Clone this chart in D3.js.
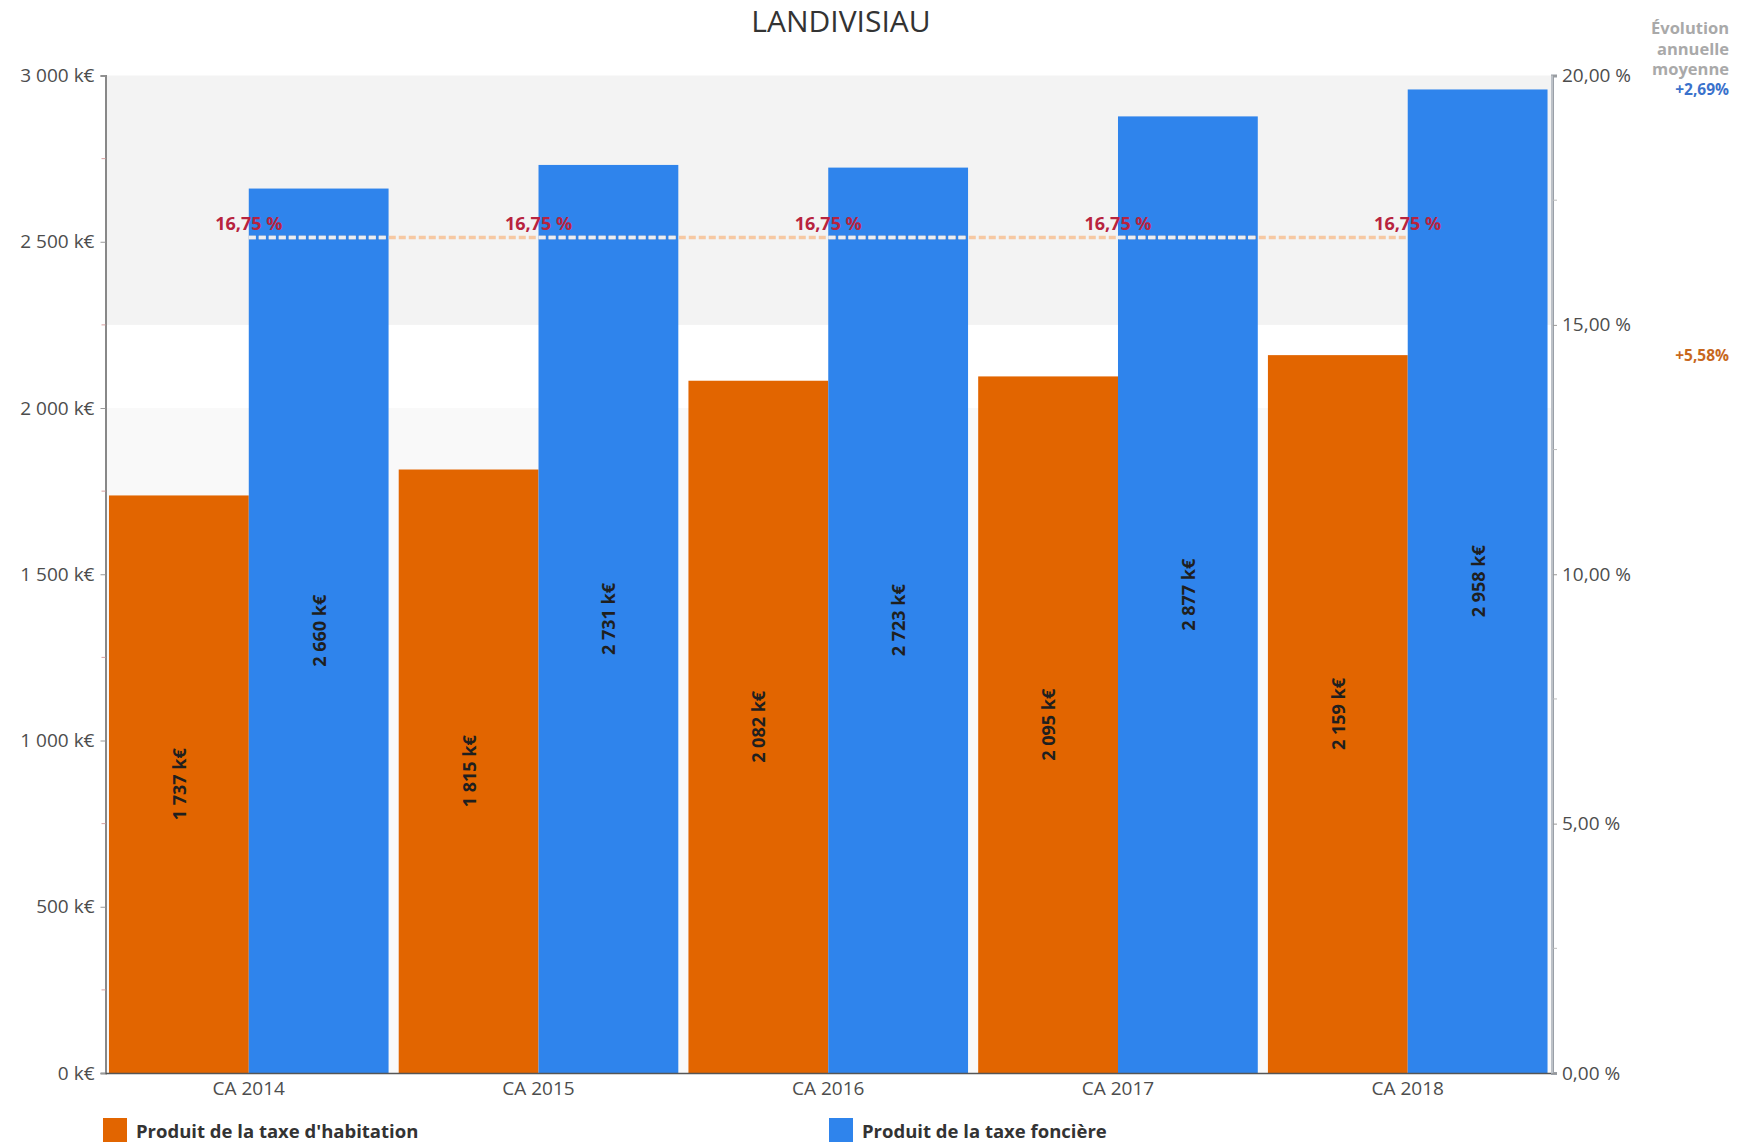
<!DOCTYPE html>
<html><head><meta charset="utf-8">
<script src="https://cdn.jsdelivr.net/npm/d3@7"></script>
<style>
html,body{margin:0;padding:0;background:#fff;}
text{font-family:"Open Sans",sans-serif;}
</style></head>
<body>
<svg id="chart" width="1740" height="1144"></svg>
<script>
const title = "LANDIVISIAU";
const categories = ["CA 2014","CA 2015","CA 2016","CA 2017","CA 2018"];
const seriesNames = ["Produit de la taxe d'habitation","Produit de la taxe foncière"];
const habitation = [1737,1815,2082,2095,2159];
const fonciere = [2660,2731,2723,2877,2958];
const taux = [16.75,16.75,16.75,16.75,16.75];
const leftTicks = [0,500,1000,1500,2000,2500,3000];
const rightTicks = [0,5,10,15,20];
const evolutionTitle = ["Évolution","annuelle","moyenne"];
const evolutionValues = ["+2,69%","+5,58%"];
const colors = ["#e26500","#2f84ec"];

const svg = d3.select("#chart");
const X0 = 105.5, X1 = 1551, Y0 = 1073, Y1 = 75.5;
const fmtK = v => d3.format(",")(v).replace(/,/g," ") + " k€";
const fmtPct = v => d3.format(".2f")(v).replace(".", ",") + " %";

const x = d3.scaleBand().domain(categories).range([X0, X1]).paddingInner(0.035).paddingOuter(0.012);
const xs = d3.scaleBand().domain([0,1]).range([0, x.bandwidth()]);
const y = d3.scaleLinear().domain([0,3000]).range([Y0, Y1]);
const yr = d3.scaleLinear().domain([0,20]).range([Y0, Y1]);

// background bands
svg.append("rect").attr("x", X0).attr("width", X1 - X0)
  .attr("y", yr(20)).attr("height", yr(15) - yr(20)).attr("fill", "#f3f3f3");
svg.append("rect").attr("x", X0).attr("width", X1 - X0)
  .attr("y", y(2000)).attr("height", y(0) - y(2000)).attr("fill", "#f9f9f9");

// title
svg.append("text").attr("x", 841).attr("y", 32).attr("text-anchor", "middle")
  .attr("font-size", 30).attr("fill", "#333").text(title);

// bars
const data = categories.map((c, i) => ({c, vals: [habitation[i], fonciere[i]]}));
const g = svg.append("g");
data.forEach(d => {
  d.vals.forEach((v, s) => {
    const bx = x(d.c) + xs(s);
    g.append("rect").attr("x", bx).attr("width", xs.bandwidth())
      .attr("y", y(v)).attr("height", y(0) - y(v)).attr("fill", colors[s]);
    const cx = bx + xs.bandwidth() / 2, cy = (y(v) + y(0)) / 2;
    g.append("text").attr("transform", `translate(${cx + 7},${cy}) rotate(-90)`)
      .attr("text-anchor", "middle").attr("font-size", 18).attr("font-weight", "bold")
      .attr("fill", "#1f1f1f").text(fmtK(v));
  });
});

// axes
const leftAxis = d3.axisLeft(y).tickValues(leftTicks).tickFormat(fmtK).tickSize(5).tickPadding(6);
const la = svg.append("g").attr("transform", `translate(${X0},0)`).call(leftAxis);
la.select(".domain").attr("stroke", "#888").attr("stroke-width", 2);
la.selectAll(".tick line").attr("stroke", "#999");
la.selectAll(".tick text").attr("font-size", 19).attr("fill", "#4d4d4d");
// minor ticks left
svg.append("g").selectAll("line").data(d3.range(250, 3000, 500)).join("line")
  .attr("x1", X0 - 4).attr("x2", X0).attr("y1", d => y(d)).attr("y2", d => y(d))
  .attr("stroke", "#d9a0a0").attr("stroke-width", 1);

const rightAxis = d3.axisRight(yr).tickValues(rightTicks).tickFormat(fmtPct).tickSize(5).tickPadding(5);
const ra = svg.append("g").attr("transform", `translate(${X1 + 1},0)`).call(rightAxis);
ra.select(".domain").attr("stroke", "#9aa0a8").attr("stroke-width", 3);
ra.selectAll(".tick line").attr("stroke", "#999");
ra.selectAll(".tick text").attr("font-size", 19).attr("fill", "#4d4d4d");
svg.append("line").attr("x1", X1 + 1).attr("x2", X1 + 1).attr("y1", Y1).attr("y2", Y0)
  .attr("stroke", "#dfe3e8").attr("stroke-width", 1);
svg.append("g").selectAll("line").data(d3.range(2.5, 20, 5)).join("line")
  .attr("x1", X1 + 2).attr("x2", X1 + 6).attr("y1", d => yr(d)).attr("y2", d => yr(d))
  .attr("stroke", "#bbb");

// x axis baseline + labels
svg.append("line").attr("x1", X0).attr("x2", X1).attr("y1", Y0 + 0.5).attr("y2", Y0 + 0.5)
  .attr("stroke", "#555").attr("stroke-width", 1.5);
svg.append("g").selectAll("text").data(categories).join("text")
  .attr("x", d => x(d) + x.bandwidth() / 2).attr("y", 1095).attr("text-anchor", "middle")
  .attr("font-size", 19).attr("fill", "#4d4d4d").text(d => d);

// rate line
const cxs = categories.map(c => x(c) + x.bandwidth() / 2);
const lineData = categories.map((c, i) => [cxs[i], yr(taux[i])]);
svg.append("path").attr("d", d3.line()(lineData)).attr("fill", "none")
  .attr("stroke", "#f6c8a2").attr("stroke-width", 3.5).attr("stroke-dasharray", "7,3");
categories.slice(0, -1).forEach((c, i) => {
  const xa = cxs[i], xb = x(c) + x.bandwidth();
  svg.append("line").attr("x1", xa).attr("x2", xb)
    .attr("y1", yr(taux[i])).attr("y2", yr(taux[i]))
    .attr("stroke", "#e9edf2").attr("stroke-width", 3.5).attr("stroke-dasharray", "7,3");
});
svg.append("g").selectAll("text").data(taux).join("text")
  .attr("x", (d, i) => cxs[i]).attr("y", d => yr(d) - 8).attr("text-anchor", "middle")
  .attr("font-size", 18).attr("font-weight", "bold").attr("fill", "#b8233f").text(d => fmtPct(d));

// evolution annotations
svg.append("g").selectAll("text").data(evolutionTitle).join("text")
  .attr("x", 1729).attr("y", (d, i) => 34 + i * 20.5).attr("text-anchor", "end")
  .attr("font-size", 16.5).attr("font-weight", "bold").attr("fill", "#a9a9a9").text(d => d);
svg.append("text").attr("x", 1729).attr("y", 95).attr("text-anchor", "end")
  .attr("font-size", 15.5).attr("font-weight", "bold").attr("fill", "#3a72cc").text(evolutionValues[0]);
svg.append("text").attr("x", 1729).attr("y", 361).attr("text-anchor", "end")
  .attr("font-size", 15.5).attr("font-weight", "bold").attr("fill", "#c8681e").text(evolutionValues[1]);

// legend
const legX = [103, 829];
seriesNames.forEach((n, i) => {
  svg.append("rect").attr("x", legX[i]).attr("y", 1118).attr("width", 24).attr("height", 24)
    .attr("fill", colors[i]);
  svg.append("text").attr("x", legX[i] + 33).attr("y", 1138).attr("font-size", 18.5)
    .attr("font-weight", "bold").attr("fill", "#333").text(n);
});
</script>
</body></html>
